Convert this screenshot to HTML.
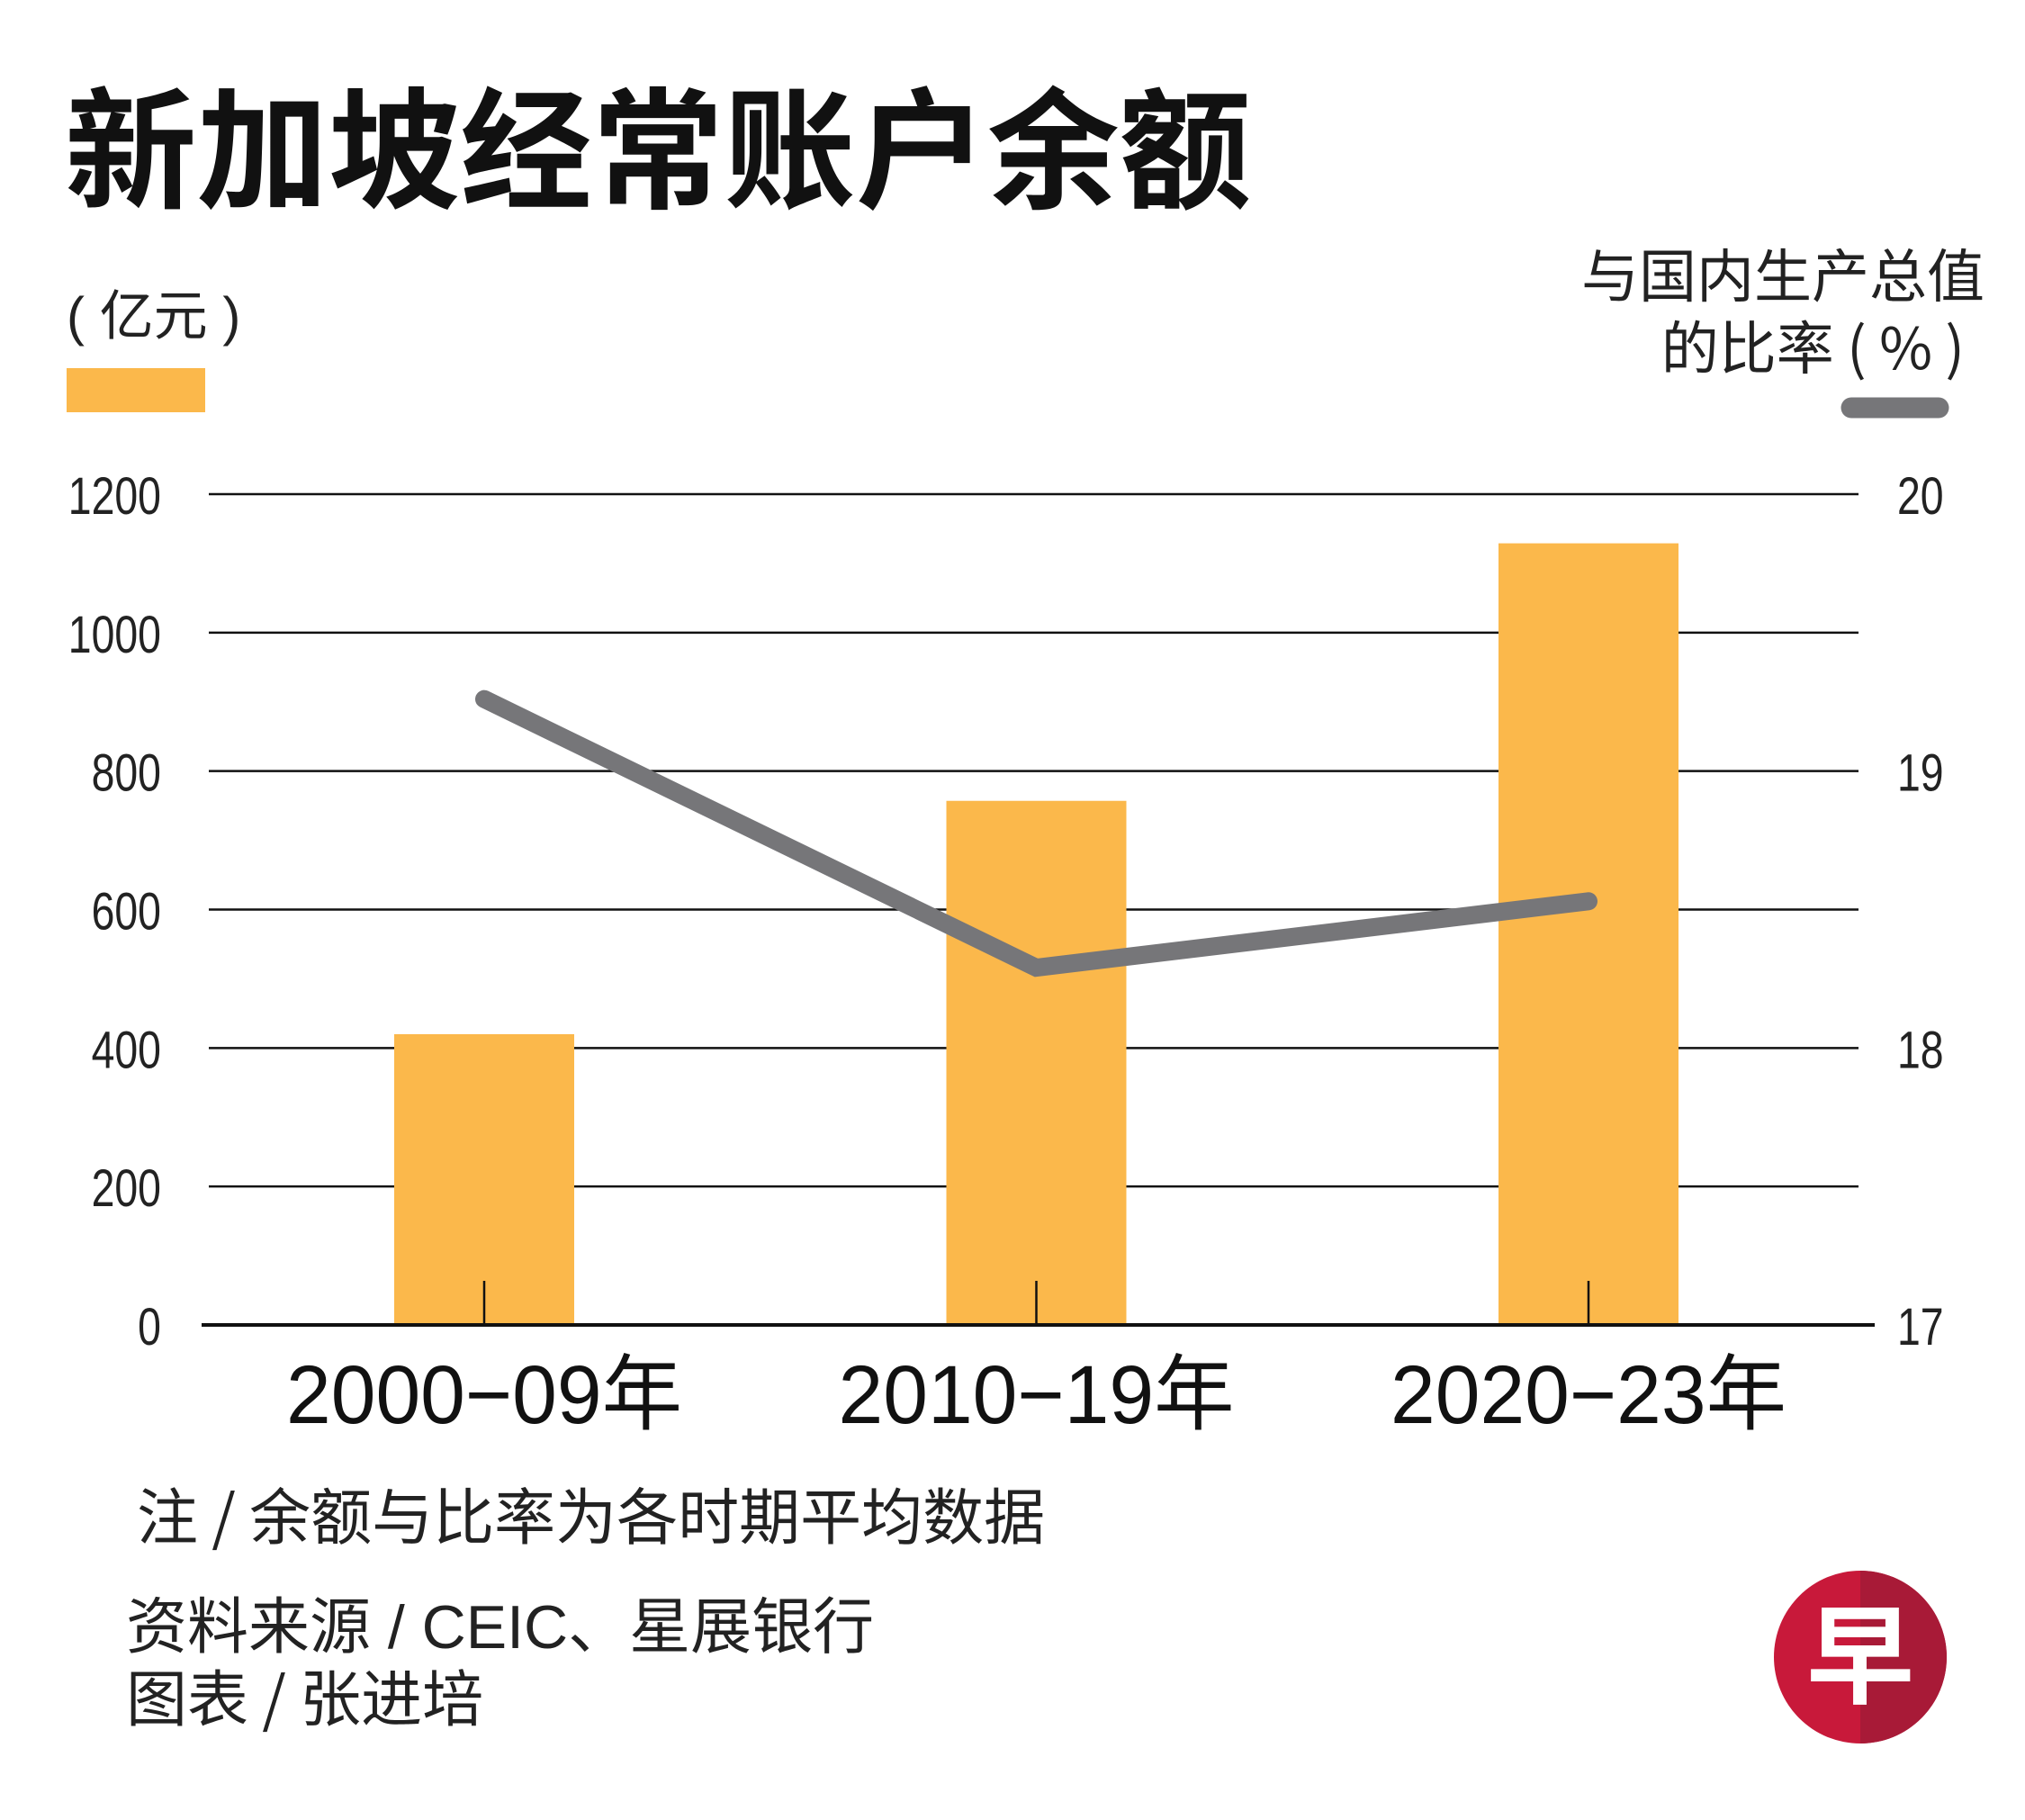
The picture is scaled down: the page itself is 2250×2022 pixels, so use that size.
<!DOCTYPE html>
<html><head><meta charset="utf-8">
<style>
html,body{margin:0;padding:0;background:#fff;}
body{width:2250px;height:2017px;overflow:hidden;position:relative;font-family:"Liberation Sans","Noto Sans CJK SC",sans-serif;}
</style></head>
<body>
<svg width="2250" height="2017" viewBox="0 0 2250 2017" xmlns="http://www.w3.org/2000/svg">
<text x="72" y="220" font-size="146" font-weight="bold" fill="#111" font-family="Noto Sans CJK SC, sans-serif" textLength="1318" lengthAdjust="spacingAndGlyphs">新加坡经常账户余额</text>
<text x="74" y="372" font-size="60" fill="#222" font-family="Liberation Sans, Noto Sans CJK SC, sans-serif">( 亿元 )</text>
<rect x="74" y="409" width="154" height="49" fill="#FBB84B"/>
<text x="2205" y="330" font-size="64" fill="#222" text-anchor="end" font-family="Noto Sans CJK SC, sans-serif">与国内生产总值</text>
<text x="2183" y="410" font-size="64" fill="#222" text-anchor="end" font-family="Noto Sans CJK SC, sans-serif">的比率 ( % )</text>
<line x1="2057" y1="453" x2="2154" y2="453" stroke="#767679" stroke-width="23" stroke-linecap="round"/>
<g id="grid"></g><g id="bars"></g><g id="axis"></g><g id="line"></g><g id="labels"></g>
<text x="152" y="1710" font-size="68" fill="#222" font-family="Noto Sans CJK SC, sans-serif">注 / 余额与比率为各时期平均数据</text>
<text x="140" y="1831" font-size="68" fill="#222" font-family="Liberation Sans, Noto Sans CJK SC, sans-serif">资料来源 / CEIC、星展银行</text>
<text x="140" y="1912" font-size="68" fill="#222" font-family="Noto Sans CJK SC, sans-serif">图表 / 张进培</text>
<g>
<circle cx="2067" cy="1841" r="96" fill="#C8193A"/>
<path d="M2067 1745 A96 96 0 0 1 2067 1937 Z" fill="#A81A37"/>
<text x="2067" y="1883" font-size="120" fill="#fff" text-anchor="middle" font-weight="bold" font-family="Noto Sans CJK SC, sans-serif">早</text>
</g>
</svg>
<script>
const categories = ["2000−09年","2010−19年","2020−23年"];
const barValues = [420, 757, 1129];
const lineValues = [19.26, 18.29, 18.53];
const leftTicks = [0,200,400,600,800,1000,1200];
const rightTicks = [17,18,19,20];
const NS="http://www.w3.org/2000/svg";
const yL = v => 1472 - v*(923/1200);
const yR = v => 1472 - (v-17)*(923/3);
const xC = i => 538 + i*613.5;
function mk(tag, attrs, parent){const e=document.createElementNS(NS,tag);for(const k in attrs)e.setAttribute(k,attrs[k]);document.getElementById(parent).appendChild(e);return e;}
leftTicks.forEach(t=>{
  if(t>0){const g=mk('line',{x1:232,x2:2065,y1:yL(t),y2:yL(t),stroke:'#111','stroke-width':2.5},'grid');
  
  }
  const tx=mk('text',{x:179,y:yL(t)+22,'font-size':58,'text-anchor':'end',fill:'#222',transform:`translate(179,0) scale(0.8,1) translate(-179,0)`},'labels');
  tx.textContent=t;
  
  
});
rightTicks.forEach(t=>{
  const tx=mk('text',{x:2108,y:yR(t)+22,'font-size':58,fill:'#222',transform:`translate(2108,0) scale(0.8,1) translate(-2108,0)`},'labels');
  tx.textContent=t;
  
  
});
barValues.forEach((v,i)=>{
  const b=mk('rect',{x:xC(i)-100,y:yL(v),width:200,height:1472-yL(v),fill:'#FBB84B'},'bars');
  
  
  const tk=mk('line',{x1:xC(i),x2:xC(i),y1:1423,y2:1472,stroke:'#111','stroke-width':2.5},'axis');
  
  
  const tx=mk('text',{x:xC(i),y:1581,'font-size':92,'text-anchor':'middle',fill:'#111','font-family':'Liberation Sans, Noto Sans CJK SC, sans-serif',textLength:440,lengthAdjust:'spacingAndGlyphs'},'labels');
  tx.textContent=categories[i];
  
  
});
const base=mk('line',{x1:224,x2:2083,y1:1472,y2:1472,stroke:'#111','stroke-width':4},'axis');


const pl=mk('polyline',{points:lineValues.map((v,i)=>xC(i)+','+yR(v)).join(' '),fill:'none',stroke:'#767679','stroke-width':20,'stroke-linecap':'round','stroke-linejoin':'miter'},'line');


</script>
</body></html>
